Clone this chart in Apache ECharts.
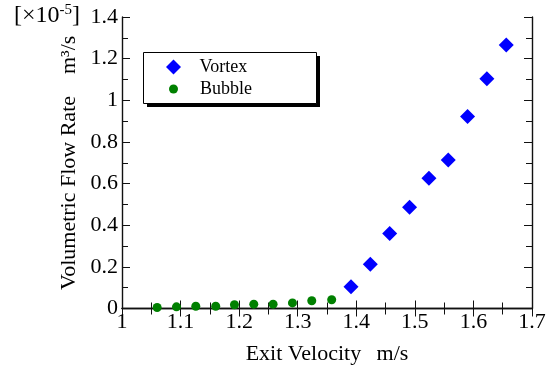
<!DOCTYPE html>
<html>
<head>
<meta charset="utf-8">
<script src="https://cdn.jsdelivr.net/npm/echarts@6/dist/echarts.min.js"></script>
<style>
  html, body { margin: 0; padding: 0; background: #fff; }
  #chart { width: 551px; height: 367px; }
</style>
</head>
<body>
<div id="chart"></div>
<script>
// values (flow rate in units of 1e-5 m^3/s)
const vortexVelocity = [1.391, 1.424, 1.457, 1.491, 1.524, 1.557, 1.590, 1.623, 1.656];
const vortexFlow = [0.104, 0.213, 0.360, 0.486, 0.625, 0.713, 0.922, 1.103, 1.266];
const bubbleVelocity = [1.060, 1.093, 1.126, 1.160, 1.192, 1.225, 1.258, 1.291, 1.324, 1.358];
const bubbleFlow = [0.005, 0.008, 0.011, 0.011, 0.018, 0.021, 0.021, 0.027, 0.037, 0.042];

const font = '"Liberation Serif", "Times New Roman", serif';
const zip = (xs, ys) => xs.map((x, i) => [x, ys[i]]);

const boxAxis = {
    axisLine: { show: true, lineStyle: { color: '#111', width: 1.4 } },
    axisTick: { show: true, inside: true, length: 8, lineStyle: { color: '#111' } },
    minorTick: { show: true, splitNumber: 2, length: 6, lineStyle: { color: '#111' } },
    splitLine: { show: false }
};
const legendText = { color: '#000', fontFamily: font, fontSize: 18 };

let chart = echarts.init(document.getElementById('chart'));
chart.setOption({
    animation: false,
    grid: { left: 122, right: 19, top: 17, bottom: 58.5, outerBoundsMode: 'none', containLabel: false },
    xAxis: [{
        ...boxAxis,
        type: 'value', min: 1, max: 1.7, interval: 0.1,
        axisLabel: { color: '#000', fontFamily: font, fontSize: 22, margin: 3,
            formatter: v => (Math.abs(v - 1) < 1e-9 ? '1' : v.toFixed(1)) },
        name: 'Exit Velocity  \u2009m/s', nameLocation: 'middle', nameGap: 35,
        nameMoveOverlap: false,
        nameTextStyle: { color: '#000', fontFamily: font, fontSize: 22 }
    }, {
        ...boxAxis,
        type: 'value', min: 1, max: 1.7, interval: 0.1, position: 'top',
        axisLabel: { show: false }
    }],
    yAxis: [{
        ...boxAxis,
        type: 'value', min: 0, max: 1.4, interval: 0.2,
        axisLabel: { color: '#000', fontFamily: font, fontSize: 22, margin: 4 },
        name: 'Volumetric Flow Rate    m³/s', nameLocation: 'middle', nameGap: 42,
        nameMoveOverlap: false,
        nameTextStyle: { color: '#000', fontFamily: font, fontSize: 22 }
    }, {
        ...boxAxis,
        type: 'value', min: 0, max: 1.4, interval: 0.2, position: 'right',
        axisLabel: { show: false }
    }],
    legend: [{
        left: 166, top: 58, padding: 0, z: 10,
        itemWidth: 15, itemHeight: 15,
        textStyle: legendText,
        formatter: '\u2002 {name}',
        data: ['Vortex']
    }, {
        left: 169, top: 80, padding: 0, z: 10,
        itemWidth: 9, itemHeight: 9,
        textStyle: legendText,
        formatter: '\u2002\u2009 {name}',
        data: ['Bubble']
    }],
    graphic: [{
        type: 'rect', left: 147, top: 56, z: 1,
        shape: { width: 173, height: 51 },
        style: { fill: '#000' }
    }, {
        type: 'rect', left: 143, top: 52, z: 2,
        shape: { width: 173, height: 51 },
        style: { fill: '#fff', stroke: '#000', lineWidth: 1 }
    }, {
        type: 'text', left: 14, top: 3,
        style: {
            text: '[×10{sup|-5}]',
            fill: '#000', font: '24px "Liberation Serif"',
            rich: { sup: { fontFamily: font, fontSize: 15, verticalAlign: 'top', padding: [0, 0, 10, 0] } }
        }
    }],
    series: [{
        name: 'Vortex', type: 'scatter', symbol: 'diamond', symbolSize: 15,
        itemStyle: { color: '#0000ff', opacity: 1 },
        data: zip(vortexVelocity, vortexFlow)
    }, {
        name: 'Bubble', type: 'scatter', symbol: 'circle', symbolSize: 9,
        itemStyle: { color: '#008000', opacity: 1 },
        data: zip(bubbleVelocity, bubbleFlow)
    }]
});
</script>
</body>
</html>
